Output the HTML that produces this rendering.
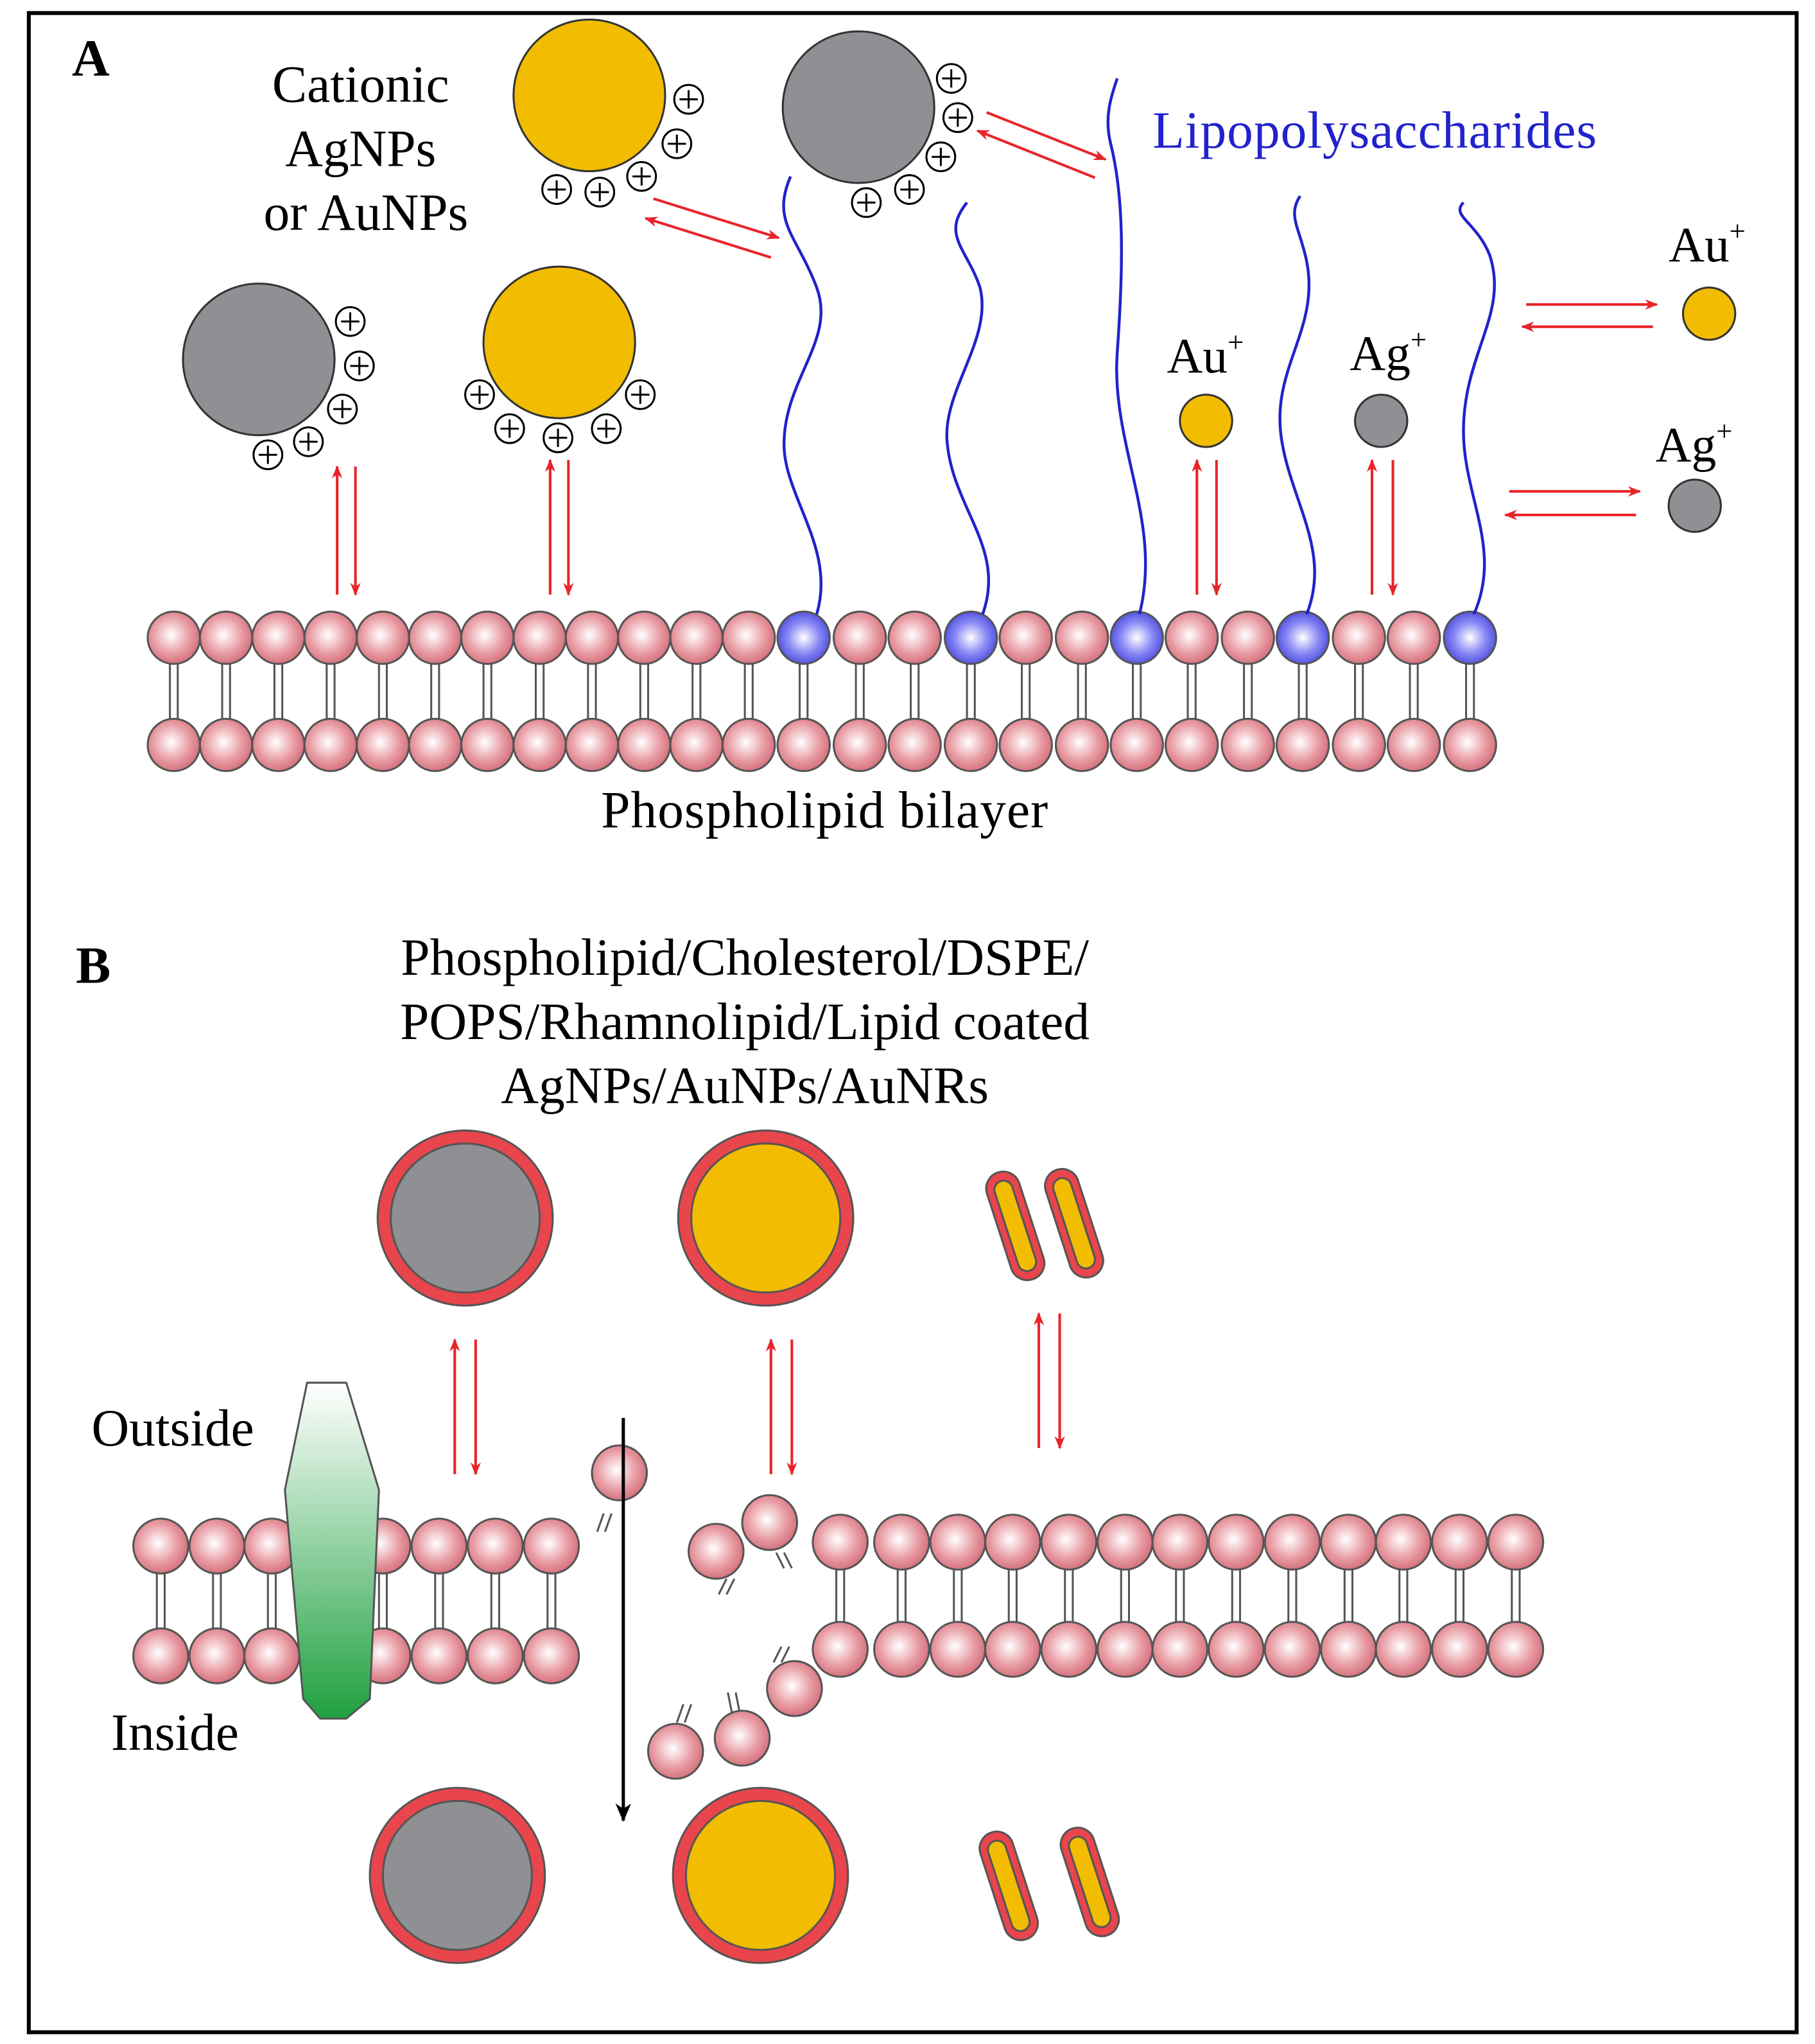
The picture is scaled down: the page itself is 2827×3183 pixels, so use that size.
<!DOCTYPE html>
<html><head><style>html,body{margin:0;padding:0;background:#fff}svg{display:block}text{font-family:"Liberation Serif",serif}</style></head>
<body>
<svg width="2827" height="3183" viewBox="0 0 1389 1564" xmlns="http://www.w3.org/2000/svg">
<defs>
<radialGradient id="pk" cx="0.45" cy="0.45" r="0.6"><stop offset="0" stop-color="#fff"/><stop offset="0.6" stop-color="#e89aa2"/><stop offset="1" stop-color="#d06a76"/></radialGradient>
<radialGradient id="bl" cx="0.5" cy="0.5" r="0.6"><stop offset="0" stop-color="#fff"/><stop offset="0.5" stop-color="#8a8af5"/><stop offset="1" stop-color="#3a3ad8"/></radialGradient>
<linearGradient id="gr" x1="0" y1="0" x2="0" y2="1"><stop offset="0" stop-color="#fff"/><stop offset="1" stop-color="#20a040"/></linearGradient>
<marker id="ar" markerWidth="10" markerHeight="8" refX="9" refY="4" orient="auto" markerUnits="userSpaceOnUse"><path d="M0,0 L10,4 L0,8 L3,4z" fill="#e8242a"/></marker>
<marker id="ak" markerWidth="14" markerHeight="12" refX="13" refY="6" orient="auto" markerUnits="userSpaceOnUse"><path d="M0,0 L14,6 L0,12 L4,6z" fill="#000"/></marker>
<g id="p"><circle r="11"/><path d="M-7,0h14M0,-7v14"/></g>
</defs>
<rect x="22" y="10" width="1353" height="1545" fill="none" stroke="#000" stroke-width="3"/>
<text x="55" y="58" font-size="40" font-weight="bold">A</text>
<text x="58" y="752" font-size="40" font-weight="bold">B</text>

<g stroke="#555" stroke-width="1.5">
<g fill="none">
<path d="M130,508v42M136,508v42M170,508v42M176,508v42M210,508v42M216,508v42M250,508v42M256,508v42M290,508v42M296,508v42M330,508v42M336,508v42M370,508v42M376,508v42M410,508v42M416,508v42M450,508v42M456,508v42M490,508v42M496,508v42M530,508v42M536,508v42M570,508v42M576,508v42M612,508v42M618,508v42M655,508v42M661,508v42M697,508v42M703,508v42M740,508v42M746,508v42M782,508v42M788,508v42M825,508v42M831,508v42M867,508v42M873,508v42M909,508v42M915,508v42M952,508v42M958,508v42M994,508v42M1000,508v42M1037,508v42M1043,508v42M1079,508v42M1085,508v42M1122,508v42M1128,508v42"/>
</g>
<g fill="url(#pk)">
<circle cx="133" cy="488" r="20"/><circle cx="173" cy="488" r="20"/><circle cx="213" cy="488" r="20"/><circle cx="253" cy="488" r="20"/><circle cx="293" cy="488" r="20"/><circle cx="333" cy="488" r="20"/><circle cx="373" cy="488" r="20"/><circle cx="413" cy="488" r="20"/><circle cx="453" cy="488" r="20"/><circle cx="493" cy="488" r="20"/><circle cx="533" cy="488" r="20"/><circle cx="573" cy="488" r="20"/><circle cx="658" cy="488" r="20"/><circle cx="700" cy="488" r="20"/><circle cx="785" cy="488" r="20"/><circle cx="828" cy="488" r="20"/><circle cx="912" cy="488" r="20"/><circle cx="955" cy="488" r="20"/><circle cx="1040" cy="488" r="20"/><circle cx="1082" cy="488" r="20"/>
<circle cx="133" cy="570" r="20"/><circle cx="173" cy="570" r="20"/><circle cx="213" cy="570" r="20"/><circle cx="253" cy="570" r="20"/><circle cx="293" cy="570" r="20"/><circle cx="333" cy="570" r="20"/><circle cx="373" cy="570" r="20"/><circle cx="413" cy="570" r="20"/><circle cx="453" cy="570" r="20"/><circle cx="493" cy="570" r="20"/><circle cx="533" cy="570" r="20"/><circle cx="573" cy="570" r="20"/><circle cx="615" cy="570" r="20"/><circle cx="658" cy="570" r="20"/><circle cx="700" cy="570" r="20"/><circle cx="743" cy="570" r="20"/><circle cx="785" cy="570" r="20"/><circle cx="828" cy="570" r="20"/><circle cx="870" cy="570" r="20"/><circle cx="912" cy="570" r="20"/><circle cx="955" cy="570" r="20"/><circle cx="997" cy="570" r="20"/><circle cx="1040" cy="570" r="20"/><circle cx="1082" cy="570" r="20"/><circle cx="1125" cy="570" r="20"/>
</g>
<g fill="url(#bl)"><circle cx="615" cy="488" r="20"/><circle cx="743" cy="488" r="20"/><circle cx="870" cy="488" r="20"/><circle cx="997" cy="488" r="20"/><circle cx="1125" cy="488" r="20"/></g>
</g>
<g fill="none" stroke="#2222cc" stroke-width="2.2">
<path d="M625,470 C640,420 600,380 600,340 C600,290 640,260 625,220 C610,180 590,170 605,135"/>
<path d="M752,470 C770,420 730,390 725,340 C720,300 760,260 750,220 C740,190 720,180 740,155"/>
<path d="M872,470 C890,400 850,340 855,270 C860,200 860,150 850,110 C845,90 850,75 855,60"/>
<path d="M1000,470 C1020,420 985,380 980,330 C975,280 1010,250 1000,200 C995,175 985,165 995,150"/>
<path d="M1128,470 C1150,420 1120,380 1120,330 C1120,270 1155,240 1140,195 C1130,170 1110,165 1120,155"/>
</g>
<text x="882" y="113" font-size="40" fill="#2222cc" textLength="340">Lipopolysaccharides</text>
<text x="460" y="633" font-size="40" textLength="342">Phospholipid bilayer</text>
<g font-size="40" text-anchor="middle"><text x="276" y="78">Cationic</text><text x="276" y="127">AgNPs</text><text x="280" y="176">or AuNPs</text></g>
<g stroke="#333" stroke-width="1.5">
<circle cx="198" cy="275" r="58" fill="#8e9093"/>
<circle cx="428" cy="262" r="58" fill="#f2bd00"/>
<circle cx="451" cy="73" r="58" fill="#f2bd00"/>
<circle cx="657" cy="82" r="58" fill="#8e9093"/>
<circle cx="923" cy="322" r="20" fill="#f2bd00"/>
<circle cx="1057" cy="322" r="20" fill="#8e9093"/>
<circle cx="1308" cy="240" r="20" fill="#f2bd00"/>
<circle cx="1297" cy="387" r="20" fill="#8e9093"/>
</g>
<g fill="#fff" stroke="#000" stroke-width="1.5">
<use href="#p" x="268" y="246"/><use href="#p" x="275" y="280"/><use href="#p" x="262" y="313"/><use href="#p" x="236" y="338"/><use href="#p" x="205" y="348"/>
<use href="#p" x="367" y="302"/><use href="#p" x="390" y="328"/><use href="#p" x="427" y="335"/><use href="#p" x="464" y="328"/><use href="#p" x="490" y="302"/>
<use href="#p" x="527" y="76"/><use href="#p" x="518" y="110"/><use href="#p" x="491" y="135"/><use href="#p" x="459" y="147"/><use href="#p" x="426" y="145"/>
<use href="#p" x="728" y="60"/><use href="#p" x="733" y="90"/><use href="#p" x="720" y="120"/><use href="#p" x="696" y="145"/><use href="#p" x="663" y="155"/>
</g>
<g font-size="38"><text x="893" y="285">Au<tspan font-size="22" dy="-16">+</tspan></text><text x="1033" y="283">Ag<tspan font-size="22" dy="-16">+</tspan></text><text x="1277" y="200">Au<tspan font-size="22" dy="-16">+</tspan></text><text x="1267" y="353">Ag<tspan font-size="22" dy="-16">+</tspan></text></g>
<g stroke="#e8242a" stroke-width="2" marker-end="url(#ar)">
<path d="M258,455V357"/><path d="M272,357V455"/>
<path d="M421,455V352"/><path d="M435,352V455"/>
<path d="M916,455V352"/><path d="M931,352V455"/>
<path d="M1050,455V352"/><path d="M1066,352V455"/>
<path d="M500,152L596,182"/><path d="M590,197L494,167"/>
<path d="M755,86L846,122"/><path d="M838,136L748,100"/>
<path d="M1168,233H1268"/><path d="M1265,250H1165"/>
<path d="M1155,376H1255"/><path d="M1252,394H1152"/>
<path d="M348,1128V1025"/><path d="M364,1025V1128"/>
<path d="M590,1128V1025"/><path d="M606,1025V1128"/>
<path d="M795,1108V1005"/><path d="M811,1005V1108"/>
</g>
<g font-size="40" text-anchor="middle"><text x="570" y="746">Phospholipid/Cholesterol/DSPE/</text><text x="570" y="795">POPS/Rhamnolipid/Lipid coated</text><text x="570" y="844">AgNPs/AuNPs/AuNRs</text></g>
<text x="70" y="1106" font-size="40">Outside</text>
<text x="85" y="1339" font-size="40">Inside</text>
<g stroke="#555" stroke-width="1.5">
<circle cx="356" cy="932" r="67" fill="#e8454c"/><circle cx="356" cy="932" r="57" fill="#8e9093"/>
<circle cx="586" cy="932" r="67" fill="#e8454c"/><circle cx="586" cy="932" r="57" fill="#f2bd00"/>
<circle cx="350" cy="1435" r="67" fill="#e8454c"/><circle cx="350" cy="1435" r="57" fill="#8e9093"/>
<circle cx="582" cy="1435" r="67" fill="#e8454c"/><circle cx="582" cy="1435" r="57" fill="#f2bd00"/>
</g>
<g stroke="#555" stroke-width="1.5">
<g transform="rotate(-18 777 938)"><rect x="764" y="895" width="26" height="86" rx="13" fill="#e8454c"/><rect x="770" y="902" width="14" height="72" rx="7" fill="#f2bd00"/></g>
<g transform="rotate(-18 822 936)"><rect x="809" y="893" width="26" height="86" rx="13" fill="#e8454c"/><rect x="815" y="900" width="14" height="72" rx="7" fill="#f2bd00"/></g>
<g transform="rotate(-18 772 1443)"><rect x="759" y="1400" width="26" height="86" rx="13" fill="#e8454c"/><rect x="765" y="1407" width="14" height="72" rx="7" fill="#f2bd00"/></g>
<g transform="rotate(-18 834 1440)"><rect x="821" y="1397" width="26" height="86" rx="13" fill="#e8454c"/><rect x="827" y="1404" width="14" height="72" rx="7" fill="#f2bd00"/></g>
</g>
<g stroke="#555" stroke-width="1.5" fill="none">
<path d="M120,1204v42M126,1204v42M163,1204v42M169,1204v42M205,1204v42M211,1204v42M290,1204v42M296,1204v42M333,1204v42M339,1204v42M376,1204v42M382,1204v42M419,1204v42M425,1204v42"/>
<path d="M640,1201v40M646,1201v40M687,1201v40M693,1201v40M730,1201v40M736,1201v40M772,1201v40M778,1201v40M815,1201v40M821,1201v40M858,1201v40M864,1201v40M900,1201v40M906,1201v40M943,1201v40M949,1201v40M986,1201v40M992,1201v40M1029,1201v40M1035,1201v40M1071,1201v40M1077,1201v40M1114,1201v40M1120,1201v40M1157,1201v40M1163,1201v40"/>
<path d="M462,1158l-5,14M468,1158l-5,14M556,1208l-6,12M562,1208l-6,12M594,1188l6,12M600,1188l6,12M592,1272l6,-12M598,1272l6,-12M518,1318l5,-14M524,1318l5,-14M560,1310l-3,-15M566,1310l-3,-15"/>
</g>
<g stroke="#555" stroke-width="1.5" fill="url(#pk)">
<circle cx="123" cy="1183" r="21"/><circle cx="166" cy="1183" r="21"/><circle cx="208" cy="1183" r="21"/><circle cx="293" cy="1183" r="21"/><circle cx="336" cy="1183" r="21"/><circle cx="379" cy="1183" r="21"/><circle cx="422" cy="1183" r="21"/>
<circle cx="123" cy="1267" r="21"/><circle cx="166" cy="1267" r="21"/><circle cx="208" cy="1267" r="21"/><circle cx="293" cy="1267" r="21"/><circle cx="336" cy="1267" r="21"/><circle cx="379" cy="1267" r="21"/><circle cx="422" cy="1267" r="21"/>
<circle cx="643" cy="1180" r="21"/><circle cx="690" cy="1180" r="21"/><circle cx="733" cy="1180" r="21"/><circle cx="775" cy="1180" r="21"/><circle cx="818" cy="1180" r="21"/><circle cx="861" cy="1180" r="21"/><circle cx="903" cy="1180" r="21"/><circle cx="946" cy="1180" r="21"/><circle cx="989" cy="1180" r="21"/><circle cx="1032" cy="1180" r="21"/><circle cx="1074" cy="1180" r="21"/><circle cx="1117" cy="1180" r="21"/><circle cx="1160" cy="1180" r="21"/>
<circle cx="643" cy="1262" r="21"/><circle cx="690" cy="1262" r="21"/><circle cx="733" cy="1262" r="21"/><circle cx="775" cy="1262" r="21"/><circle cx="818" cy="1262" r="21"/><circle cx="861" cy="1262" r="21"/><circle cx="903" cy="1262" r="21"/><circle cx="946" cy="1262" r="21"/><circle cx="989" cy="1262" r="21"/><circle cx="1032" cy="1262" r="21"/><circle cx="1074" cy="1262" r="21"/><circle cx="1117" cy="1262" r="21"/><circle cx="1160" cy="1262" r="21"/>
<circle cx="474" cy="1127" r="21"/><circle cx="548" cy="1187" r="21"/><circle cx="589" cy="1165" r="21"/><circle cx="608" cy="1292" r="21"/><circle cx="517" cy="1340" r="21"/><circle cx="568" cy="1330" r="21"/>
</g>
<path d="M235,1058 L265,1058 L290,1140 L283,1300 L265,1315 L245,1315 L232,1300 L218,1140 Z" fill="url(#gr)" stroke="#555" stroke-width="1.5"/>
<path d="M477,1085 V1393" stroke="#000" stroke-width="2.5" marker-end="url(#ak)"/>
</svg>
</body></html>
